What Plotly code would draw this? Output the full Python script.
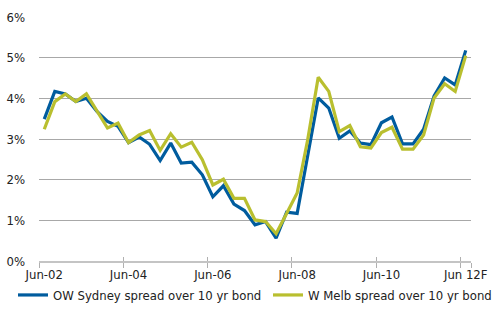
import plotly.graph_objects as go

# Quarterly categories Jun-02 .. Jun-12 (forecast)
months = ["Jun", "Sep", "Dec", "Mar"]
categories = []
for i in range(41):
    m = months[i % 4]
    yr = 2 + (i + 2) // 4
    categories.append(f"{m}-{yr:02d}")
categories[-1] = "Jun 12F"

sydney = [3.49, 4.17, 4.11, 3.92, 4.00, 3.68, 3.43, 3.31, 2.91, 3.05,
          2.87, 2.47, 2.90, 2.41, 2.43, 2.12, 1.58, 1.85, 1.40, 1.24,
          0.89, 0.97, 0.56, 1.20, 1.17, 2.57, 4.01, 3.76, 3.02, 3.20,
          2.90, 2.86, 3.40, 3.54, 2.88, 2.88, 3.24, 4.06, 4.50, 4.33, 5.18]
melb = [3.24, 3.92, 4.11, 3.92, 4.11, 3.68, 3.27, 3.39, 2.91, 3.10,
        3.21, 2.72, 3.13, 2.80, 2.92, 2.49, 1.87, 2.01, 1.54, 1.54,
        1.01, 0.97, 0.67, 1.17, 1.67, 2.98, 4.52, 4.17, 3.18, 3.33,
        2.81, 2.78, 3.16, 3.29, 2.75, 2.75, 3.10, 4.01, 4.36, 4.17, 5.05]

label_step = 8
tick_labels = categories[::label_step]
boundary_vals = [i - 0.5 for i in range(0, len(categories), label_step)]

BLUE = "#005C9E"
GREEN = "#B9BF2F"
FONT = "DejaVu Sans Condensed"
FS = 13

fig = go.Figure()
fig.add_trace(go.Scatter(x=categories, y=sydney, mode="lines",
                         name="OW Sydney spread over 10 yr bond",
                         legend="legend",
                         line=dict(color=BLUE, width=3.2)))
fig.add_trace(go.Scatter(x=categories, y=melb, mode="lines",
                         name="W Melb spread over 10 yr bond",
                         legend="legend2",
                         line=dict(color=GREEN, width=3.2)))
# helper trace for inside tick axis
fig.add_trace(go.Scatter(x=[0], y=[0], xaxis="x2", mode="markers",
                         marker=dict(opacity=0), showlegend=False,
                         hoverinfo="skip"))

leg_common = dict(orientation="h", xref="container", yref="container",
                  xanchor="left", yanchor="middle", font=dict(size=FS),
                  itemwidth=30, bgcolor="rgba(0,0,0,0)", borderwidth=0)

fig.update_layout(
    width=494, height=310,
    margin=dict(l=39, r=23, t=17, b=49, autoexpand=False),
    paper_bgcolor="white", plot_bgcolor="white",
    font=dict(family=FONT, size=FS, color="#222222"),
    showlegend=True,
    legend=dict(x=13 / 494, y=15 / 310, **leg_common),
    legend2=dict(x=268 / 494, y=15 / 310, **leg_common),
    xaxis=dict(type="category", range=[-0.5, len(categories) - 0.5],
               tickmode="array", tickvals=tick_labels, ticktext=tick_labels,
               tickson="boundaries", ticks="outside", ticklen=5,
               tickcolor="#b0b0b0", tickwidth=1, tickangle=0,
               automargin=False,
               showgrid=False, showline=True, linecolor="#c4c4c4", linewidth=2,
               tickfont=dict(size=FS), zeroline=False),
    xaxis2=dict(overlaying="x", range=[-0.5, len(categories) - 0.5],
                tickmode="array", tickvals=boundary_vals, ticks="inside",
                ticklen=4, tickcolor="#b0b0b0", tickwidth=1,
                showticklabels=False, showgrid=False, showline=False,
                zeroline=False, anchor="y", side="bottom", automargin=False),
    yaxis=dict(range=[0, 6], dtick=1, ticksuffix="%", showgrid=True,
               gridcolor="#a8a8a8", gridwidth=1, zeroline=False,
               showline=False, ticks="", tickfont=dict(size=FS),
               automargin=False, ticklabelstandoff=13),
)

fig.write_html("out.html", config={"displayModeBar": False},
               post_script="document.body.style.margin='0';document.body.style.padding='0';")
